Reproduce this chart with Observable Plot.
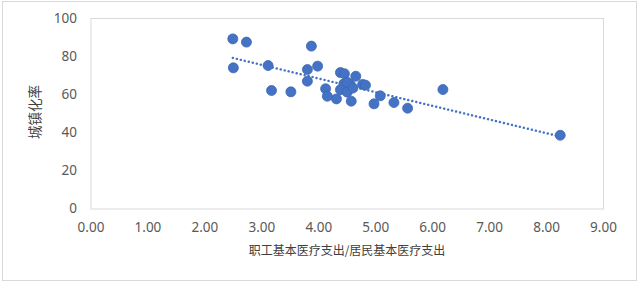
<!DOCTYPE html>
<html>
<head>
<meta charset="utf-8">
<script src="https://cdn.jsdelivr.net/npm/d3@7"></script>
<script src="https://cdn.jsdelivr.net/npm/@observablehq/plot@0.6"></script>
<style>
  html, body { margin: 0; padding: 0; background: #fff; }
  #chart { width: 640px; height: 284px; }
</style>
</head>
<body>
<div id="chart"></div>
<script>
// 职工基本医疗支出/居民基本医疗支出 (x) vs 城镇化率 (y)
const ratio = [2.49, 2.73, 2.50, 3.11, 3.87, 3.80, 3.98, 3.80, 3.17, 3.51,
               4.38, 4.45, 4.65, 4.12, 4.15, 4.31, 4.44, 4.38, 4.55, 4.50,
               4.57, 4.77, 4.82, 4.97, 5.08, 5.32, 5.56, 6.18, 8.24, 4.50, 4.60];
const urban = [89.3, 87.6, 74.1, 75.3, 85.5, 73.2, 75.0, 67.1, 62.2, 61.5,
               71.6, 71.0, 69.7, 63.1, 59.2, 57.8, 65.7, 62.6, 65.4, 61.3,
               56.6, 65.4, 65.0, 55.2, 59.4, 55.9, 52.9, 62.7, 38.7, 66.5, 63.5];
const xTicks = [0, 1, 2, 3, 4, 5, 6, 7, 8, 9];
const yTicks = [0, 20, 40, 60, 80, 100];
const xTitle = "职工基本医疗支出/居民基本医疗支出";
const yTitle = "城镇化率";

const data = ratio.map((r, i) => ({x: r, y: urban[i]}));
const blue = "#4472C4";
const font = "'Noto Sans', 'Noto Sans CJK SC', sans-serif";

const plot = Plot.plot({
  width: 640,
  height: 284,
  marginLeft: 90.5,
  marginRight: 37,
  marginTop: 18,
  marginBottom: 75.5,
  style: {fontFamily: font, color: "#595959", background: "#fff"},
  x: {domain: [0, 9], ticks: xTicks, tickFormat: d => d.toFixed(2), label: null},
  y: {domain: [0, 100], ticks: yTicks, label: null},
  marks: [
    Plot.frame({stroke: "#d9d9d9", strokeWidth: 1}),
    Plot.axisX({ticks: xTicks, tickFormat: d => d.toFixed(2), tickSize: 0, tickPadding: 13, fontSize: 13.5, fill: "#595959", label: null}),
    Plot.axisY({ticks: yTicks, tickSize: 0, tickPadding: 14, fontSize: 13.5, fill: "#595959", label: null}),
    Plot.linearRegressionY(data, {x: "x", y: "y", ci: 0, stroke: blue, strokeWidth: 2.4, strokeDasharray: "0.1 4", strokeLinecap: "round"}),
    Plot.dot(data, {x: "x", y: "y", r: 5, fill: blue, stroke: "#3d67b3", strokeWidth: 0.8})
  ]
});

const svg = d3.select(plot);
svg.append("rect")
  .attr("x", 2.5).attr("y", 1.5).attr("width", 634).attr("height", 279)
  .attr("fill", "none").attr("stroke", "#d9d9d9").attr("stroke-width", 1);
svg.append("text")
  .attr("x", 347).attr("y", 252)
  .attr("text-anchor", "middle").attr("dominant-baseline", "middle")
  .attr("font-family", "'Noto Sans CJK SC', sans-serif")
  .attr("font-size", 12).attr("fill", "#404040")
  .text(xTitle);
svg.append("text")
  .attr("transform", "translate(36,112) rotate(-90)")
  .attr("text-anchor", "middle").attr("dominant-baseline", "middle")
  .attr("font-family", "'Noto Sans CJK SC', sans-serif")
  .attr("font-size", 13.5).attr("fill", "#404040")
  .text(yTitle);

document.getElementById("chart").appendChild(plot);
</script>
</body>
</html>
